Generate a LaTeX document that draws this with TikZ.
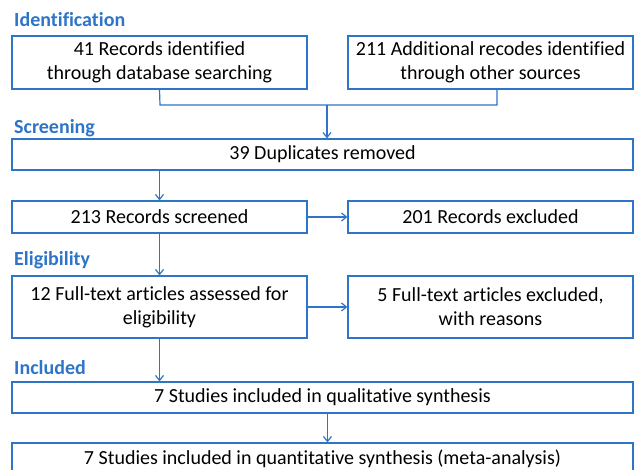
\documentclass[tikz,border=0pt]{standalone}
\usepackage{fontspec}
\setmainfont[RawFeature={-liga;-calt;-dlig;-clig}]{Carlito}
\usetikzlibrary{arrows.meta}
\definecolor{prisma_blue}{RGB}{46, 117, 200}
\definecolor{head_blue}{RGB}{46, 117, 200}
\tikzstyle{box}=[rectangle,draw=prisma_blue,line width=1.2pt,inner sep=0pt,
  align=center,font=\fontsize{20}{24}\selectfont]
\tikzstyle{half}=[box,minimum width=295pt]
\tikzstyle{halfr}=[box,minimum width=285pt]
\tikzstyle{full}=[box,minimum width=621pt]
\tikzstyle{head}=[anchor=west,inner sep=0pt,text=head_blue,
  font=\fontsize{20}{24}\selectfont\bfseries]
\tikzstyle{arr}=[draw=prisma_blue,line width=1.2pt,-{Straight Barb[length=5pt,width=8pt]}]
\tikzstyle{ln}=[draw=prisma_blue,line width=1.2pt]

\begin{document}
\begin{tikzpicture}[x=1pt,y=-1pt]
    \useasboundingbox (0,0) rectangle (635,469);
    \node [style=head] (lblid) at (14,20) {Identification};
    \node [style=half,minimum height=53pt] (b1) at (159.5,62.5) {41 Records identified\\through database searching};
    \node [style=halfr,minimum height=53pt] (b2) at (490.5,62.5) {211 Additional recodes identified\\through other sources};
    \node [style=head] (lblscr) at (14,128) {Screening};
    \node [style=full,minimum height=31pt] (b3) at (322.5,154.5) {39 Duplicates removed};
    \node [style=half,minimum height=32pt] (b4) at (159.5,217) {213 Records screened};
    \node [style=halfr,minimum height=32pt] (b5) at (490.5,217) {201 Records excluded};
    \node [style=head] (lblelig) at (14,260) {Eligibility};
    \node [style=half,minimum height=62pt] (b6) at (159.5,307) {12 Full-text articles assessed for\\eligibility};
    \node [style=halfr,minimum height=62pt] (b7) at (490.5,307) {5 Full-text articles excluded,\\with reasons};
    \node [style=head] (lblinc) at (14,368) {Included};
    \node [style=full,minimum height=31pt] (b8) at (322.5,397.5) {7 Studies included in qualitative synthesis};
    \node [style=full,minimum height=32pt] (b9) at (322.5,459) {7 Studies included in quantitative synthesis (meta-analysis)};
    \coordinate (m1) at (160,105);
    \coordinate (m2) at (497,105);
    \coordinate (join) at (327,105);
    \draw [style=ln] (b1.south) -- (m1) -- (m2) -- (m2 |- b2.south);
    \draw [style=arr] (join) -- (join |- b3.north);
    \draw [style=arr] (b4.north |- b3.south) -- (b4.north);
    \draw [style=arr] (b4) to (b5);
    \draw [style=arr] (b4) to (b6);
    \draw [style=arr] (b6) to (b7);
    \draw [style=arr] (b6.south) -- (b6.south |- b8.north);
    \draw [style=arr] ([xshift=5pt]b8.south) -- ([xshift=5pt]b9.north);
\end{tikzpicture}
\end{document}
